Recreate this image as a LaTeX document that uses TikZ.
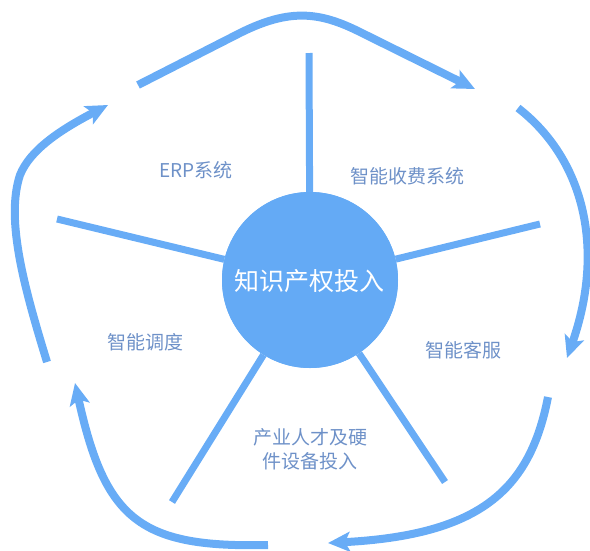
\documentclass[tikz,border=0pt]{standalone}
\usepackage{fontspec}
\setmainfont{Noto Sans CJK SC}
\usetikzlibrary{arrows.meta}
\definecolor{cblue}{RGB}{100,170,245}
\definecolor{lblue}{RGB}{104,172,246}
\definecolor{tblue}{RGB}{110,145,200}
\tikzset{
  spoke/.style={draw=lblue,line width=7pt},
  cycarrow/.style={draw=lblue,line width=8pt,-{Stealth[length=22pt,width=20pt,inset=5pt]}},
  lbl/.style={text=tblue,font=\fontsize{19pt}{24pt}\selectfont,align=center,inner sep=0pt}
}
\begin{document}
\begin{tikzpicture}[x=1pt,y=-1pt]
\useasboundingbox (0,0) rectangle (590,550);
% spoke ends
\coordinate (s1) at (309,53);
\coordinate (s2) at (540,224);
\coordinate (s3) at (445,482);
\coordinate (s4) at (172,502);
\coordinate (s5) at (57,219);
\node[circle,fill=cblue,minimum size=176pt,inner sep=0pt] (c) at (310,280) {};
\foreach \s in {s1,s2,s3,s4,s5}{\draw[spoke] (c) -- (\s);}
\node[circle,fill=cblue,minimum size=176pt,inner sep=0pt] (cc) at (310,280) {};
\node[text=white,font=\fontsize{25pt}{30pt}\selectfont,inner sep=0pt] (ct) at (309,281) {知识产权投入};
% labels
\node[lbl] (l1) at (196,170) {ERP系统};
\node[lbl] (l2) at (407,176) {智能收费系统};
\node[lbl] (l3) at (463,350) {智能客服};
\node[lbl] (l4) at (310,449) {产业人才及硬\\件设备投入};
\node[lbl] (l5) at (145,342) {智能调度};
% cycle arrows
\coordinate (a1s) at (138,85);
\coordinate (a1e) at (475,89);
\coordinate (a2s) at (518,108);
\coordinate (a2e) at (567,358);
\coordinate (a3s) at (548,397);
\coordinate (a3e) at (328,543);
\coordinate (a4s) at (268,545);
\coordinate (a4e) at (75,383);
\coordinate (a5s) at (47,362);
\coordinate (a5e) at (108,105);
\draw[cycarrow] (a1s) -- (240,33) .. controls (290,8) and (320,12) .. (360,32) -- (a1e);
\draw[cycarrow] (a2s) .. controls (585,160) and (605,250) .. (a2e);
\draw[cycarrow] (a3s) .. controls (530,490) and (480,535) .. (a3e);
\draw[cycarrow] (a4s) .. controls (140,548) and (105,520) .. (a4e);
\draw[cycarrow] (a5s) .. controls (25,290) and (5,220) .. (20,175) .. controls (30,150) and (60,130) .. (a5e);
\end{tikzpicture}
\end{document}
